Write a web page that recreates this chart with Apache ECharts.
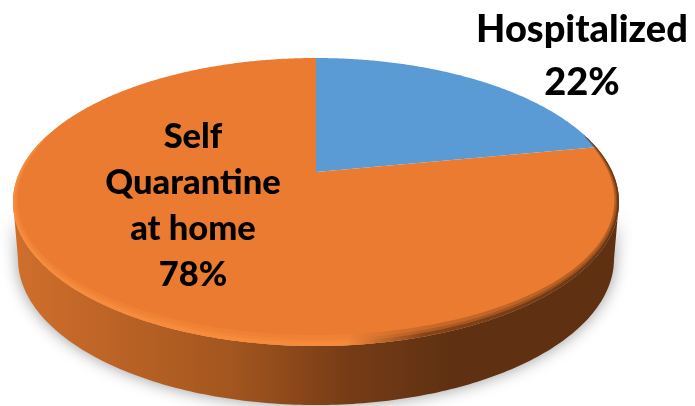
<!DOCTYPE html>
<html>
<head>
<meta charset="utf-8">
<style>html,body{margin:0;padding:0;background:#fff}#c{width:695px;height:406px}</style>
<script src="https://cdn.jsdelivr.net/npm/echarts@6/dist/echarts.min.js"></script>
</head>
<body>
<div id="c"></div>
<script>
const categories = ['Hospitalized', 'Self\nQuarantine\nat home'];
const shares = [22, 78];
const sliceColors = ['#5b9bd5', '#ea7b30'];

const total = shares.reduce((a, b) => a + b, 0);
const FACE = { cx: 316, cy: 202, rx: 303, ry: 144, tilt: -0.208 };
const BASE = { cx: 316, cy: 259, rx: 298, ry: 146 };
const LABELS = [
  { x: 582, y: 56, size: 38, lh: 53 },
  { x: 193, y: 206, size: 34.5, lh: 46 }
];

// A point of the round pie on the tilted disc: the outline stays an ellipse, the centre moves up.
function project(x, y) {
  const t = FACE.tilt, d = 1 + t * y;
  return [
    FACE.cx + FACE.rx * x * Math.sqrt(1 - t * t) / d,
    FACE.cy + FACE.ry * (y + t) / d
  ];
}
function arc(e, from, to) {
  const pts = [];
  for (let a = from; a <= to + 1e-6; a += 1) {
    const r = a * Math.PI / 180;
    pts.push([e.cx + e.rx * Math.sin(r), e.cy - e.ry * Math.cos(r)]);
  }
  return pts;
}
// Bevel band just inside the face's edge, widest at the front and tapering off to the sides.
function bevel(width, stops) {
  const outer = arc(FACE, 62, 298);
  const inner = [];
  for (let a = 298; a >= 62; a -= 1) {
    const r = a * Math.PI / 180;
    const w = width * Math.pow(Math.cos((a - 180) / 118 * Math.PI / 2), 0.5);
    inner.push([
      FACE.cx + (FACE.rx - w * 0.7) * Math.sin(r),
      FACE.cy - (FACE.ry - w) * Math.cos(r)
    ]);
  }
  return {
    type: 'polygon', silent: true,
    shape: { points: outer.concat(inner) },
    style: { fill: new echarts.graphic.LinearGradient(0, 0, 1, 0, stops) }
  };
}
function renderSlice(params, api) {
  const i = params.dataIndex;
  const value = api.value(0);
  const before = shares.slice(0, i).reduce((a, b) => a + b, 0);
  const a0 = before / total * 360;
  const a1 = a0 + value / total * 360;
  const onCircle = a => {
    const r = a * Math.PI / 180;
    return project(Math.sin(r), -Math.cos(r));
  };
  const pts = [project(0, 0)];
  for (let a = a0; a < a1; a += 0.5) pts.push(onCircle(a));
  pts.push(onCircle(a1));

  const isFront = value === Math.max(...shares);
  const children = [];
  if (isFront) {
    children.push({
      type: 'polygon', silent: true,
      shape: { points: [...arc(BASE, 90, 270), ...arc(FACE, 90, 270).reverse()] },
      style: {
        fill: new echarts.graphic.LinearGradient(0, 0, 1, 0, [
          { offset: 0, color: '#d06f2c' },
          { offset: 0.14, color: '#bf6527' },
          { offset: 0.36, color: '#a3561f' },
          { offset: 0.55, color: '#773c16' },
          { offset: 0.72, color: '#5f3112' },
          { offset: 1, color: '#5f3112' }
        ]),
        shadowBlur: 16, shadowColor: 'rgba(0,0,0,0.4)'
      }
    });
  }
  children.push({
    type: 'polygon',
    shape: { points: pts },
    style: { fill: sliceColors[i] }
  });
  if (isFront) {
    const soft = [
      { offset: 0, color: 'rgba(248,140,62,0.4)' },
      { offset: 0.55, color: 'rgba(248,140,62,0.35)' },
      { offset: 0.68, color: 'rgba(105,52,18,0.25)' },
      { offset: 1, color: 'rgba(95,49,18,0.4)' }
    ];
    const hard = [
      { offset: 0, color: 'rgba(250,142,62,0.75)' },
      { offset: 0.55, color: 'rgba(250,142,62,0.6)' },
      { offset: 0.68, color: 'rgba(105,52,18,0.6)' },
      { offset: 1, color: 'rgba(95,49,18,0.8)' }
    ];
    children.push(bevel(11, soft), bevel(7, soft), bevel(4, hard));
  }
  const L = LABELS[i];
  children.push({
    type: 'text',
    style: {
      x: L.x, y: L.y,
      text: categories[i] + '\n' + value + '%',
      font: '900 ' + L.size + 'px Lato',
      lineHeight: L.lh, fill: '#000',
      align: 'center', verticalAlign: 'middle'
    }
  });
  return { type: 'group', children };
}
const chart = echarts.init(document.getElementById('c'), null, { renderer: 'canvas' });
chart.setOption({
  animation: false,
  backgroundColor: '#fff',
  series: [{
    type: 'custom',
    coordinateSystem: 'none',
    renderItem: renderSlice,
    data: categories.map((c, i) => ({ name: c, value: [shares[i]] }))
  }]
});
</script>
</body>
</html>
